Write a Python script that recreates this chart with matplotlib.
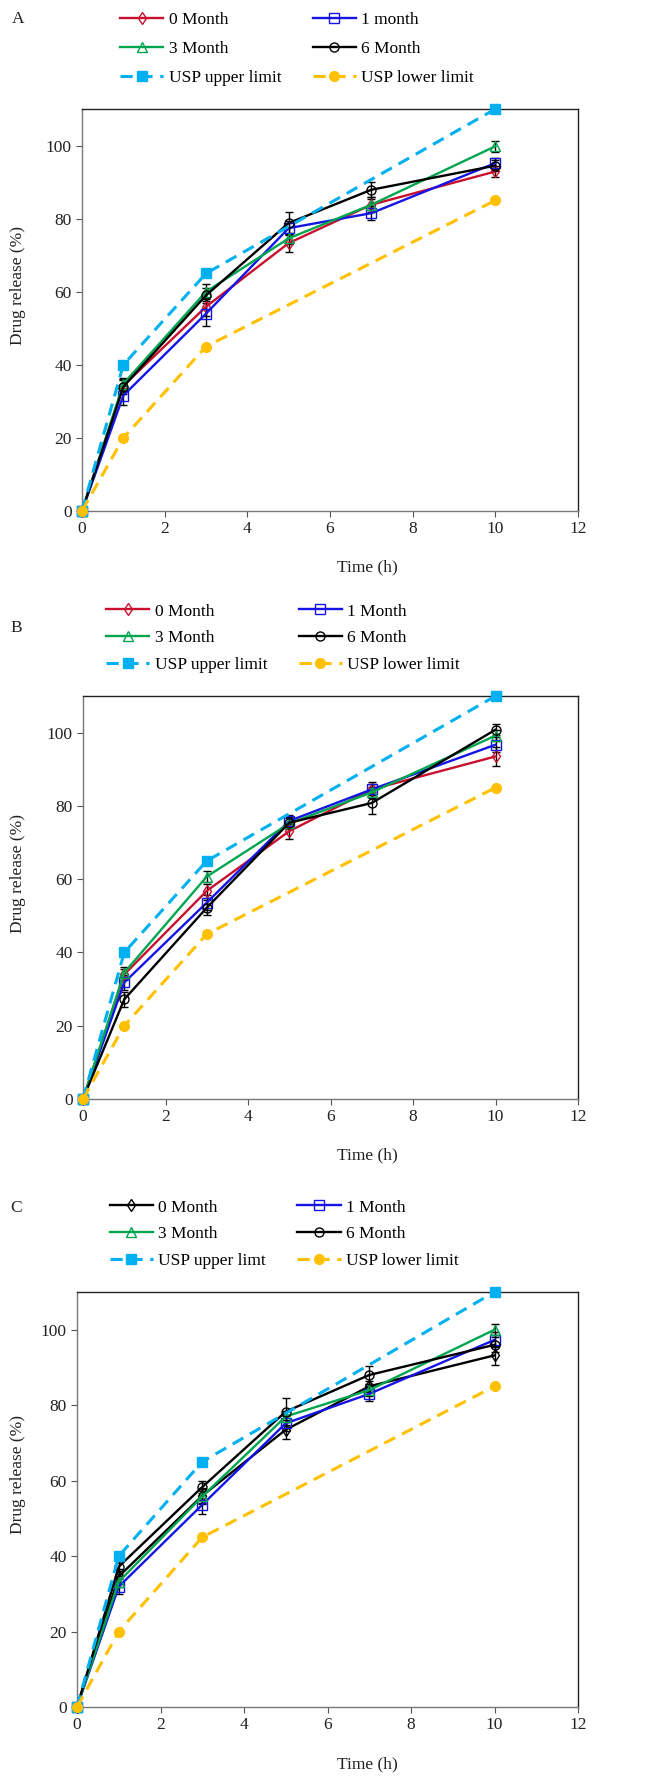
import matplotlib
matplotlib.use("Agg")
import matplotlib.pyplot as plt
from matplotlib.lines import Line2D

plt.rcParams["font.family"] = ["Liberation Serif", "DejaVu Serif"]

TIME = [0, 1, 3, 5, 7, 10]
USP_TIME = [0, 1, 3, 10]
USP_UPPER = [0, 40, 65, 110]
USP_LOWER = [0, 20, 45, 85]

# panel A
A_M0 = [0, 34.3, 55.9, 73.3, 83.8, 92.9]
A_M0_ERR = [0, 1.5, 2.5, 2.5, 2.0, 1.5]
A_M1 = [0, 31.6, 54.0, 77.4, 81.5, 95.2]
A_M1_ERR = [0, 2.5, 3.5, 2.0, 2.0, 1.5]
A_M3 = [0, 34.8, 60.0, 74.6, 83.8, 99.8]
A_M3_ERR = [0, 1.5, 2.0, 1.5, 1.5, 1.5]
A_M6 = [0, 34.0, 59.0, 78.8, 87.9, 94.5]
A_M6_ERR = [0, 2.0, 2.0, 3.0, 2.0, 1.5]

# panel B
B_M0 = [0, 34.0, 56.8, 73.1, 84.5, 93.5]
B_M0_ERR = [0, 1.5, 2.0, 2.0, 1.5, 2.5]
B_M1 = [0, 31.8, 53.6, 75.9, 84.5, 96.7]
B_M1_ERR = [0, 2.0, 2.0, 1.5, 2.0, 2.0]
B_M3 = [0, 34.5, 60.7, 75.2, 83.7, 99.2]
B_M3_ERR = [0, 1.5, 1.5, 1.5, 1.5, 1.5]
B_M6 = [0, 27.2, 52.2, 75.4, 80.8, 100.8]
B_M6_ERR = [0, 2.0, 2.0, 1.5, 3.0, 1.5]

# panel C
C_M0 = [0, 34.6, 56.0, 73.5, 85.0, 93.2]
C_M0_ERR = [0, 2.0, 2.0, 2.5, 1.5, 2.5]
C_M1 = [0, 31.9, 53.6, 75.2, 83.0, 97.3]
C_M1_ERR = [0, 2.0, 2.5, 2.0, 2.0, 2.0]
C_M3 = [0, 33.2, 55.8, 77.0, 84.0, 100.0]
C_M3_ERR = [0, 1.5, 2.0, 1.5, 1.5, 1.5]
C_M6 = [0, 37.2, 58.3, 78.3, 88.0, 96.0]
C_M6_ERR = [0, 2.0, 1.5, 3.5, 2.5, 2.0]

RED = "#C8102E"
BLUE = "#1414E6"
GREEN = "#00A550"
BLACK = "#000000"
CYAN = "#00B0F0"
GOLD = "#FFC000"

W, H = 666, 1788
DASH = (4, 2.5)


def fx(px):
    return px / W


def fy(py):
    return 1 - py / H


def draw_panel(fig, box, series, labels, legend_xy, spacing, letter_xy, letter):
    left, top, right, bottom = box
    ax = fig.add_axes([fx(left), fy(bottom), (right - left) / W, (bottom - top) / H])
    handles = []
    for (vals, err, color, marker), label in zip(series, labels[:4]):
        style = dict(color=color, marker=marker, markersize=6.5, markerfacecolor="none",
                     markeredgecolor=color, markeredgewidth=1.0, lw=1.7)
        ax.errorbar(TIME, vals, yerr=err, ecolor="black", elinewidth=1.0, capsize=3,
                    capthick=1.0, clip_on=False, zorder=3, **style)
        handles.append(Line2D([], [], label=label, **style))
    up, = ax.plot(USP_TIME, USP_UPPER, color=CYAN, lw=2.2, dashes=DASH, marker="s",
                  markersize=7, label=labels[4], clip_on=False, zorder=4)
    lo, = ax.plot(USP_TIME, USP_LOWER, color=GOLD, lw=2.2, dashes=DASH, marker="o",
                  markersize=7, label=labels[5], clip_on=False, zorder=4)
    handles += [up, lo]

    ax.set_xlim(0, 12)
    ax.set_ylim(0, 110)
    ax.set_xticks(range(0, 13, 2))
    ax.set_yticks(range(0, 101, 20))
    ax.tick_params(direction="out", length=4, width=0.8, colors="#555555",
                   labelcolor="#222222", labelsize=12.5)
    for side in ["left", "bottom"]:
        ax.spines[side].set_color("#777777")
        ax.spines[side].set_linewidth(1.0)
    for side in ["top", "right"]:
        ax.spines[side].set_color("#222222")
        ax.spines[side].set_linewidth(1.0)

    ax.set_xlabel("Time (h)", fontsize=12.5, color="#222222")
    ax.xaxis.set_label_coords((367 - left) / (right - left), -0.12)
    ax.set_ylabel("Drug release (%)", fontsize=12.5, color="#222222")
    ax.yaxis.set_label_coords((26 - left) / (right - left), 0.56)

    # rows read 0/1, 3/6, upper/lower; legend fills column by column
    order = [0, 2, 4, 1, 3, 5]
    fig.legend([handles[i] for i in order], [labels[i] for i in order], ncol=2,
               loc="center", bbox_to_anchor=(fx(legend_xy[0]), fy(legend_xy[1])),
               frameon=False, fontsize=12.5, handlelength=2.5, handletextpad=0.3,
               columnspacing=1.8, labelspacing=spacing, numpoints=1)
    fig.text(fx(letter_xy[0]), fy(letter_xy[1]), letter, fontsize=12.5,
             ha="left", va="center", color="#222222")
    return ax


fig = plt.figure(figsize=(W / 100, H / 100), dpi=100)

draw_panel(
    fig, (82, 109, 578, 511),
    [(A_M0, A_M0_ERR, RED, "d"), (A_M1, A_M1_ERR, BLUE, "s"),
     (A_M3, A_M3_ERR, GREEN, "^"), (A_M6, A_M6_ERR, BLACK, "o")],
    ["0 Month", "1 month", "3 Month", "6 Month", "USP upper limit", "USP lower limit"],
    (297, 49), 0.75, (12, 19), "A",
)
draw_panel(
    fig, (83, 696, 578, 1099),
    [(B_M0, B_M0_ERR, RED, "d"), (B_M1, B_M1_ERR, BLUE, "s"),
     (B_M3, B_M3_ERR, GREEN, "^"), (B_M6, B_M6_ERR, BLACK, "o")],
    ["0 Month", "1 Month", "3 Month", "6 Month", "USP upper limit", "USP lower limit"],
    (283, 638), 0.6, (10, 628), "B",
)
draw_panel(
    fig, (77, 1292, 578, 1707),
    [(C_M0, C_M0_ERR, BLACK, "d"), (C_M1, C_M1_ERR, BLUE, "s"),
     (C_M3, C_M3_ERR, GREEN, "^"), (C_M6, C_M6_ERR, BLACK, "o")],
    ["0 Month", "1 Month", "3 Month", "6 Month", "USP upper limt", "USP lower limit"],
    (284, 1234), 0.6, (10, 1208), "C",
)

fig.savefig("out.png", dpi=100)
